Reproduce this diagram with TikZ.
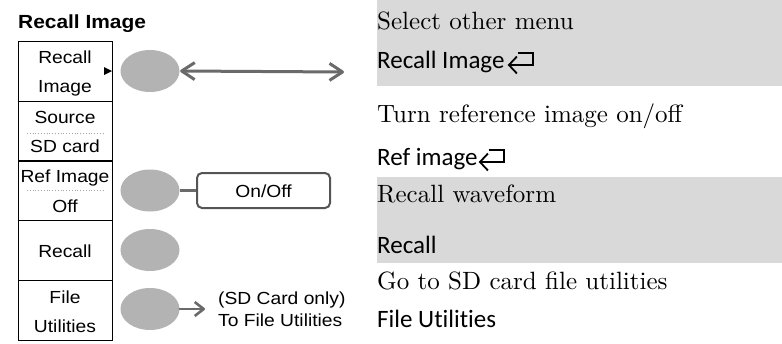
\documentclass[tikz,border=0pt]{standalone}
\usepackage{fontspec}
\usetikzlibrary{arrows.meta,shapes.geometric,calc}
\newfontfamily\arialf[FakeStretch=1.1]{Liberation Sans}
\newfontfamily\calf[Ligatures={NoCommon,NoRare,NoDiscretionary}]{Carlito}
\newfontfamily\serf{lmroman10-regular.otf}
\definecolor{barcol}{HTML}{D9D9D9}
\definecolor{btncol}{HTML}{B3B3B3}
\definecolor{arrcol}{HTML}{6A6A6A}
\definecolor{boxline}{HTML}{555555}
\tikzset{
  menubox/.style={draw=black, line width=1pt, minimum width=94pt, minimum height=60pt, inner sep=0pt},
  btn/.style={ellipse, fill=btncol, minimum width=59pt, minimum height=42pt, inner sep=0pt},
  mtext/.style={inner sep=0pt, font=\arialf\fontsize{17.5}{20}\selectfont, anchor=base},
  ltext/.style={inner sep=0pt, font=\arialf\fontsize{17.5}{20}\selectfont, anchor=base west},
  rserif/.style={inner sep=0pt, font=\serf\fontsize{25}{30}\selectfont, anchor=base west},
  rsans/.style={inner sep=0pt, font=\calf\fontsize{25}{30}\selectfont, anchor=base west},
  sepline/.style={draw=gray!70, dotted, line width=0.8pt},
  dblarrow/.style={draw=arrcol, line width=3pt, line cap=round, {Straight Barb[length=13pt,width=17pt,line join=round]}-{Straight Barb[length=13pt,width=17pt,line join=round]}},
  onearrow/.style={draw=arrcol, line width=2.6pt, line cap=round, -{Straight Barb[length=9pt,width=14pt,line join=round]}},
  retsym/.style={draw=black, line width=1.8pt, -{Straight Barb[length=8pt,width=17pt]}},
  obox/.style={draw=boxline, line width=2pt, rounded corners=5pt, minimum width=133pt, minimum height=35pt, inner sep=0pt},
}
\begin{document}
\begin{tikzpicture}[x=1pt,y=-1pt]
\useasboundingbox (0,0) rectangle (782,343);
% gray bars
\fill[barcol] (377,0) rectangle (782,86);
\fill[barcol] (377,177) rectangle (782,263);
% title
\node[inner sep=0pt, anchor=base west, font=\arialf\bfseries\fontsize{19}{22}\selectfont] (title) at (18,28) {Recall Image};
% menu boxes
\node[menubox] (m1) at (65,71) {};
\node[menubox] (m2) at (65,131) {};
\node[menubox] (m3) at (65,190.5) {};
\node[menubox] (m4) at (65,250) {};
\node[menubox] (m5) at (65,310) {};
\node[mtext] (m1a) at (65,63) {Recall};
\node[mtext] (m1b) at (65,92) {Image};
\node[mtext] (m2a) at (65,123) {Source};
\node[mtext] (m2b) at (65,152) {SD card};
\node[mtext] (m3a) at (65,182) {Ref Image};
\node[mtext] (m3b) at (65,212) {Off};
\node[mtext] (m4a) at (65,257) {Recall};
\node[mtext] (m5a) at (65,303) {File};
\node[mtext] (m5b) at (65,332) {Utilities};
\draw[sepline] (27,133) -- (104,133);
\draw[sepline] (27,190) -- (104,190);
\fill[black] (104,67) -- (112,71) -- (104,75) -- cycle;
% buttons
\node[btn] (b1) at (150,71) {};
\node[btn] (b3) at (150,190.5) {};
\node[btn] (b4) at (150,250) {};
\node[btn] (b5) at (150,309) {};
% connectors
\coordinate (a1end) at (344,72);
\draw[dblarrow] ([xshift=0.5pt]b1.east) -- (a1end);
\node[obox] (onoff) at (263.5,190.5) {};
\node[mtext] (onofftxt) at (263.5,197) {On/Off};
\draw[draw=arrcol, line width=2.6pt] (b3.east) -- (onoff.west);
\coordinate (a5end) at (205,309);
\draw[onearrow] (b5.east) -- (a5end);
\node[ltext] (sd1) at (218,304) {(SD Card only)};
\node[ltext] (sd2) at (218,326) {To File Utilities};
% right column
\node[rserif] (r1) at (377,29) {Select other menu};
\node[rsans] (r2) at (377,68) {Recall Image};
\node[rserif] (r3) at (377,122) {Turn reference image on/off};
\node[rsans] (r4) at (377,165) {Ref image};
\node[rserif] (r5) at (377,202) {Recall waveform};
\node[rsans] (r6) at (377,253) {Recall};
\node[rserif] (r7) at (377,289) {Go to SD card file utilities};
\node[rsans] (r8) at (377,327) {File Utilities};
% return symbols
\draw[retsym] ($(r2.base east)+(13,-15)$) -- ++(15,0) -- ++(0,12) -- ++(-25,0);
\draw[retsym] ($(r4.base east)+(11,-15)$) -- ++(15,0) -- ++(0,12) -- ++(-25,0);
\end{tikzpicture}
\end{document}
